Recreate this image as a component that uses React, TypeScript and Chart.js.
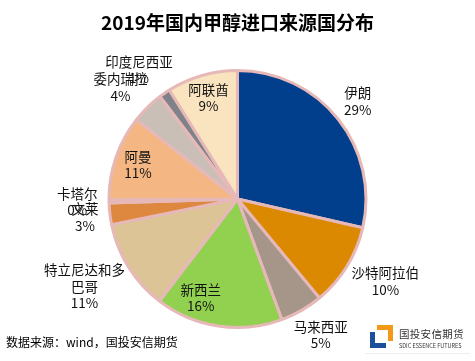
import React, { useEffect, useRef } from "react";
import { Chart, registerables } from "chart.js";

Chart.register(...registerables);

const TITLE = "2019年国内甲醇进口来源国分布";
const SOURCE = "数据来源：wind，国投安信期货";

const countries = [
  "伊朗",
  "沙特阿拉伯",
  "马来西亚",
  "新西兰",
  "特立尼达和多巴哥",
  "文莱",
  "卡塔尔",
  "阿曼",
  "委内瑞拉",
  "印度尼西亚",
  "阿联酋",
];
const shares = [28.6, 10.4, 5.4, 16.0, 11.4, 2.7, 0.4, 10.7, 4.1, 1.4, 8.9];
const sliceColors = [
  "#013E8B",
  "#DA8900",
  "#A59689",
  "#92D050",
  "#DCC497",
  "#DE873F",
  "#8FA5CF",
  "#F4B784",
  "#C9BFB7",
  "#7F8389",
  "#FAE4C0",
];
const labelInside = [false, false, false, true, false, false, false, true, false, false, true];
const labelNudge: Record<string, [number, number]> = { "新西兰": [-21, -5] };

const FONT = '"Noto Sans CJK SC", "Noto Sans", sans-serif';
const LABEL_SIZE = 13.5;
const LINE_H = 16.5;
const WRAP_W = 90;

function wrap(ctx: CanvasRenderingContext2D, text: string, maxW: number): string[] {
  const out: string[] = [];
  let cur = "";
  for (const ch of Array.from(text)) {
    if (cur && ctx.measureText(cur + ch).width > maxW) {
      out.push(cur);
      cur = ch;
    } else cur += ch;
  }
  if (cur) out.push(cur);
  return out;
}

const labelPlugin = {
  id: "sliceLabels",
  afterDatasetsDraw(chart: any) {
    const ctx: CanvasRenderingContext2D = chart.ctx;
    const meta = chart.getDatasetMeta(0);
    ctx.save();
    ctx.font = `${LABEL_SIZE}px ${FONT}`;
    ctx.fillStyle = "#111";
    ctx.textAlign = "center";
    ctx.textBaseline = "middle";
    meta.data.forEach((arc: any, i: number) => {
      const { x, y, startAngle, endAngle, outerRadius } = arc.getProps(
        ["x", "y", "startAngle", "endAngle", "outerRadius"],
        true
      );
      const R = outerRadius + 1.5;
      const mid = (startAngle + endAngle) / 2;
      const ux = Math.cos(mid);
      const uy = Math.sin(mid);
      const lines = [...wrap(ctx, countries[i], WRAP_W), Math.round(shares[i]) + "%"];
      const w = Math.max(...lines.map((l) => ctx.measureText(l).width));
      const h = lines.length * LINE_H;
      let cx: number, cy: number;
      if (labelInside[i]) {
        cx = x + 0.81 * R * ux;
        cy = y + 0.81 * R * uy;
      } else {
        const px = x + (R + 10) * ux;
        const py = y + (R + 10) * uy;
        cx = px + (ux * w) / 2;
        cy = py + (uy * h) / 2;
      }
      const n = labelNudge[countries[i]];
      if (n) {
        cx += n[0];
        cy += n[1];
      }
      lines.forEach((l, k) => {
        ctx.fillText(l, cx, cy - ((lines.length - 1) * LINE_H) / 2 + k * LINE_H);
      });
    });
    ctx.restore();
  },
};

export default function App() {
  const ref = useRef<HTMLCanvasElement | null>(null);
  useEffect(() => {
    if (!ref.current) return;
    const chart = new Chart(ref.current, {
      type: "pie",
      data: {
        labels: countries,
        datasets: [
          {
            data: shares,
            backgroundColor: sliceColors,
            borderColor: "#E6B9B8",
            borderWidth: 3,
            hoverOffset: 0,
            hoverBorderWidth: 3,
          },
        ],
      },
      options: {
        responsive: false,
        animation: false,
        events: [],
        layout: { padding: { left: 107.5, right: 107.5, top: 69, bottom: 32 } },
        plugins: {
          legend: { display: false },
          tooltip: { enabled: false },
          title: { display: false },
        },
      },
      plugins: [labelPlugin],
    });
    return () => chart.destroy();
  }, []);

  return (
    <div
      style={{
        position: "absolute",
        left: 0,
        top: 0,
        width: 475,
        height: 361,
        background: "#fff",
        overflow: "hidden",
        fontFamily: FONT,
      }}
    >
      <canvas ref={ref} width={475} height={361} style={{ position: "absolute", left: 0, top: 0 }} />
      <div
        style={{
          position: "absolute",
          left: 0,
          width: 475,
          top: 9,
          textAlign: "center",
          fontSize: 19,
          fontWeight: 700,
          lineHeight: "26px",
          color: "#000",
        }}
      >
        {TITLE}
      </div>
      <div
        style={{
          position: "absolute",
          left: 6,
          top: 334,
          fontSize: 12,
          lineHeight: "16px",
          color: "#000",
          whiteSpace: "nowrap",
        }}
      >
        {SOURCE}
      </div>
      {/* logo */}
      <div
        style={{
          position: "absolute",
          left: 377,
          top: 325,
          width: 11,
          height: 11,
          borderTop: "5px solid #F29A17",
          borderRight: "5px solid #F29A17",
        }}
      />
      <div
        style={{
          position: "absolute",
          left: 370,
          top: 332,
          width: 11,
          height: 11,
          borderLeft: "5px solid #1B4E9B",
          borderBottom: "5px solid #1B4E9B",
        }}
      />
      <div
        style={{
          position: "absolute",
          left: 399,
          top: 327,
          fontSize: 10.5,
          lineHeight: "14px",
          color: "#333",
          whiteSpace: "nowrap",
          letterSpacing: 0.3,
        }}
      >
        国投安信期货
      </div>
      <div
        style={{
          position: "absolute",
          left: 399,
          top: 343,
          fontSize: 5.5,
          lineHeight: "7px",
          color: "#333",
          whiteSpace: "nowrap",
        }}
      >
        SDIC ESSENCE FUTURES
      </div>
      <div
        style={{
          position: "absolute",
          left: 365,
          top: 353,
          width: 105,
          height: 1,
          background: "#eee",
        }}
      />
    </div>
  );
}
